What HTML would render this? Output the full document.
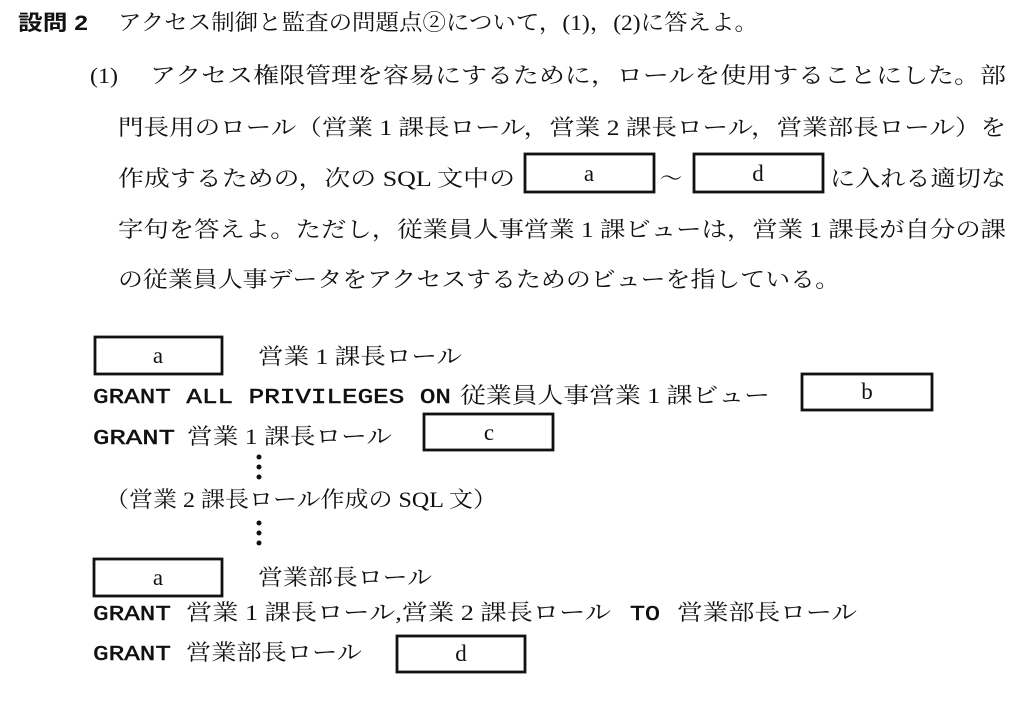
<!DOCTYPE html>
<html><head><meta charset="utf-8"><style>
html,body{margin:0;padding:0;background:#fff;}
svg{display:block}
text{fill:#111;}
.j{font-family:"Liberation Serif","Noto Serif CJK SC","Noto Sans CJK JP",serif;font-size:22px;}
.m{font-family:"Liberation Mono","Noto Sans CJK JP",monospace;font-size:21px;font-weight:normal;stroke:#111;stroke-width:0.5px;}
.b{font-family:"Liberation Sans","Noto Sans CJK JP",sans-serif;font-size:21px;font-weight:bold;}
.l{font-family:"Liberation Serif",serif;font-size:23px;text-anchor:middle;}
rect{fill:none;stroke:#111;stroke-width:2.8;}
</style></head><body>
<svg width="1024" height="707" xmlns="http://www.w3.org/2000/svg">
<text class="b" x="18" y="30" textLength="70" lengthAdjust="spacingAndGlyphs">設問 2</text>
<text class="j" x="118" y="30" textLength="640" lengthAdjust="spacingAndGlyphs">アクセス制御と監査の問題点②について，(1)，(2)に答えよ。</text>
<text class="j" x="90" y="83" textLength="28" lengthAdjust="spacingAndGlyphs">(1)</text>
<text class="j" x="150" y="83" textLength="856" lengthAdjust="spacingAndGlyphs">アクセス権限管理を容易にするために，ロールを使用することにした。部</text>
<text class="j" x="118" y="135" textLength="888" lengthAdjust="spacingAndGlyphs">門長用のロール（営業 1 課長ロール，営業 2 課長ロール，営業部長ロール）を</text>
<text class="j" x="118" y="186" textLength="397" lengthAdjust="spacingAndGlyphs">作成するための，次の SQL 文中の</text>
<rect x="525" y="154" width="129" height="38"/><text class="l" x="589" y="181">a</text>
<text class="j" x="660" y="186">～</text>
<rect x="694" y="154" width="129" height="38"/><text class="l" x="758" y="181">d</text>
<text class="j" x="830" y="186" textLength="176" lengthAdjust="spacingAndGlyphs">に入れる適切な</text>
<text class="j" x="118" y="237" textLength="888" lengthAdjust="spacingAndGlyphs">字句を答えよ。ただし，従業員人事営業 1 課ビューは，営業 1 課長が自分の課</text>
<text class="j" x="118" y="287" textLength="722" lengthAdjust="spacingAndGlyphs">の従業員人事データをアクセスするためのビューを指している。</text>

<rect x="95" y="337" width="127" height="37"/><text class="l" x="158" y="363">a</text>
<text class="j" x="258" y="364" textLength="204" lengthAdjust="spacingAndGlyphs">営業 1 課長ロール</text>
<text class="m" x="93" y="403" textLength="358" lengthAdjust="spacingAndGlyphs">GRANT ALL PRIVILEGES ON</text>
<text class="j" x="460" y="403" textLength="310" lengthAdjust="spacingAndGlyphs">従業員人事営業 1 課ビュー</text>
<rect x="802" y="374" width="130" height="36"/><text class="l" x="867" y="399">b</text>
<text class="m" x="93" y="444" textLength="82" lengthAdjust="spacingAndGlyphs">GRANT</text>
<text class="j" x="187" y="444" textLength="205" lengthAdjust="spacingAndGlyphs">営業 1 課長ロール</text>
<rect x="424" y="414" width="129" height="36"/><text class="l" x="489" y="440">c</text>
<circle cx="259" cy="457" r="2.5" fill="#111"/><circle cx="259" cy="467" r="2.5" fill="#111"/><circle cx="259" cy="477" r="2.5" fill="#111"/>
<text class="j" x="105" y="507" textLength="392" lengthAdjust="spacingAndGlyphs">（営業 2 課長ロール作成の SQL 文）</text>
<circle cx="259" cy="523" r="2.5" fill="#111"/><circle cx="259" cy="533" r="2.5" fill="#111"/><circle cx="259" cy="543" r="2.5" fill="#111"/>
<rect x="94" y="559" width="128" height="37"/><text class="l" x="158" y="585">a</text>
<text class="j" x="258" y="585" textLength="174" lengthAdjust="spacingAndGlyphs">営業部長ロール</text>
<text class="m" x="93" y="620" textLength="78" lengthAdjust="spacingAndGlyphs">GRANT</text>
<text class="j" x="186" y="620" textLength="425" lengthAdjust="spacingAndGlyphs">営業 1 課長ロール,営業 2 課長ロール</text>
<text class="m" x="630" y="620" textLength="30" lengthAdjust="spacingAndGlyphs">TO</text>
<text class="j" x="677" y="620" textLength="180" lengthAdjust="spacingAndGlyphs">営業部長ロール</text>
<text class="m" x="93" y="660" textLength="78" lengthAdjust="spacingAndGlyphs">GRANT</text>
<text class="j" x="186" y="660" textLength="176" lengthAdjust="spacingAndGlyphs">営業部長ロール</text>
<rect x="397" y="636" width="128" height="36"/><text class="l" x="461" y="661">d</text>
</svg>
</body></html>
